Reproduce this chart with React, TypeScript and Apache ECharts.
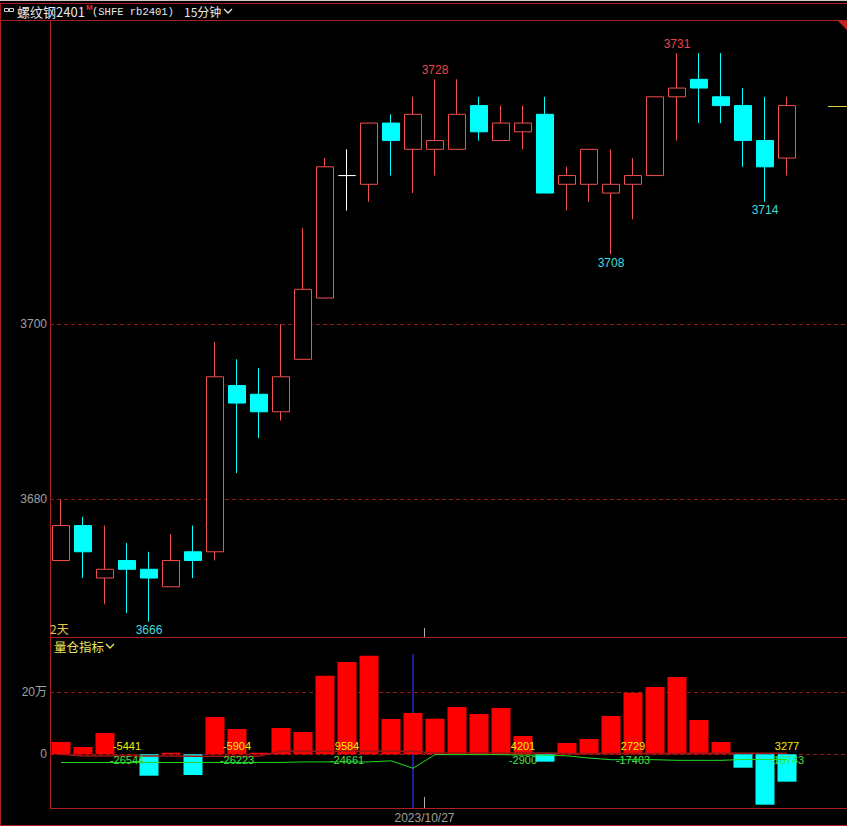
import React, { useEffect, useRef } from "react";
import * as echarts from "echarts";

// ---- data ----
const categories = [
  "10/25 22:45", "10/25 23:00",
  "10/26 09:15", "10/26 09:30", "10/26 09:45", "10/26 10:00", "10/26 10:15",
  "10/26 10:45", "10/26 11:00", "10/26 11:15", "10/26 11:30",
  "10/26 13:45", "10/26 14:00", "10/26 14:15", "10/26 14:30", "10/26 14:45", "10/26 15:00",
  "10/26 21:15", "10/26 21:30", "10/26 21:45", "10/26 22:00", "10/26 22:15", "10/26 22:30", "10/26 22:45", "10/26 23:00",
  "10/27 09:15", "10/27 09:30", "10/27 09:45", "10/27 10:00", "10/27 10:15",
  "10/27 10:45", "10/27 11:00", "10/27 11:15", "10/27 11:30",
  "", " ", "  ",
];

const opens = [3673, 3677, 3671, 3673, 3672, 3670, 3674, 3674, 3693, 3692, 3690, 3696, 3703, 3717, 3716, 3723, 3720, 3720, 3720, 3725, 3721, 3722, 3724, 3716, 3716, 3715, 3716, 3717, 3726, 3728, 3726, 3725, 3721, 3719];
const closes = [3677, 3674, 3672, 3672, 3671, 3673, 3673, 3694, 3691, 3690, 3694, 3704, 3718, 3717, 3723, 3721, 3724, 3721, 3724, 3722, 3723, 3723, 3715, 3717, 3720, 3716, 3717, 3726, 3727, 3727, 3725, 3721, 3718, 3725];
const lows = [3673, 3671, 3668, 3667, 3666, 3670, 3671, 3673, 3683, 3687, 3689, 3696, 3703, 3713, 3714, 3717, 3715, 3717, 3720, 3721, 3721, 3720, 3715, 3713, 3714, 3708, 3712, 3717, 3721, 3723, 3723, 3718, 3714, 3717];
const highs = [3680, 3678, 3677, 3675, 3674, 3676, 3677, 3698, 3696, 3695, 3700, 3711, 3719, 3720, 3723, 3724, 3726, 3728, 3728, 3726, 3725, 3725, 3726, 3718, 3720, 3720, 3719, 3726, 3731, 3731, 3731, 3727, 3726, 3726];

const oiChange = [40000, 23500, 68700, 800, -69000, 5000, -66800, 120400, 81600, 5000, 84900, 72000, 253600, 297800, 318000, 113900, 133200, 114800, 152600, 130000, 149400, 59000, -23800, 36500, 49400, 123500, 198700, 217000, 249400, 110600, 39700, -43200, -162600, -88400];
const redLine = [0, -5441, -5441, -5441, -5441, -5441, -5904, -5904, -5904, -5904, 9584, 9584, 9584, 9584, 9584, 9584, 9584, 4201, 4201, 4201, 4201, 4201, 4201, 2729, 2729, 2729, 2729, 2729, 2729, 3277, 3277, 3277, 3277, 3277];
const greenLine = [-26544, -26544, -26544, -26544, -26544, -26544, -26223, -26223, -26223, -26223, -26223, -24661, -24661, -24661, -24661, -21000, -45000, -1000, -1000, -1000, -1000, -2900, -2900, -5000, -12000, -17403, -17403, -17403, -19500, -19500, -19500, -16743, -16743, -16743];

const labelIdx = [3, 8, 13, 21, 26, 33];
const yellowLabels = ["-5441", "-5904", "9584", "4201", "2729", "3277"];
const greenLabels = ["-26544", "-26223", "-24661", "-2900", "-17403", "-16743"];

const highMarks = [17, 28];
const lowMarks = [4, 25, 32];

const priceTicks = [3680, 3700];
const volTicks = [0, 200000];
const volTickLabels = ["0", "20万"];

const sepIndex = 16;
const blueIndex = 16;
const dateLabel = "2023/10/27";

export default function App() {
  const ref = useRef<HTMLDivElement>(null);
  useEffect(() => {
    const el = ref.current as HTMLDivElement;
    const chart = echarts.init(el, null, { renderer: "svg" });
    const numFont = "'Liberation Sans', 'Noto Sans CJK SC', Arial, sans-serif";
    const cjkFont = "'Noto Sans CJK SC', 'Liberation Sans', sans-serif";
    const monoFont = "'Liberation Mono', 'DejaVu Sans Mono', monospace";
    const RED = "#f05050";
    const CYAN = "#00ffff";
    const GRID_RED = "#8c1a1a";
    const BORDER = "#a82020";
    const GRAY = "#a0a0a0";

    const candleData = opens.map((o, i) => [o, closes[i], lows[i], highs[i]]);

    const axisHidden = {
      axisLine: { show: false },
      axisTick: { show: false },
      axisLabel: { show: false },
      splitLine: { show: false },
    };

    const option: any = {
      animation: false,
      backgroundColor: "#000",
      grid: [
        { left: 50, top: 20, width: 814, height: 617 },
        { left: 50, top: 654, width: 814, height: 154 },
      ],
      xAxis: [
        { type: "category", gridIndex: 0, data: categories, boundaryGap: true, ...axisHidden },
        { type: "category", gridIndex: 1, data: categories, boundaryGap: true, ...axisHidden },
      ],
      yAxis: [
        { type: "value", gridIndex: 0, min: 3664.26, max: 3734.78, scale: true, ...axisHidden },
        { type: "value", gridIndex: 1, min: -173226, max: 323548, ...axisHidden },
      ],
      series: [
        {
          type: "candlestick",
          xAxisIndex: 0,
          yAxisIndex: 0,
          data: candleData,
          barWidth: 17,
          z: 3,
          itemStyle: {
            color: "#000",
            color0: CYAN,
            borderColor: RED,
            borderColor0: CYAN,
            borderColorDoji: "#ffffff",
            borderWidth: 1,
          },
          markLine: {
            silent: true,
            symbol: ["none", "none"],
            z: 1,
            lineStyle: { color: GRID_RED, type: [4, 3], width: 1 },
            label: {
              show: true,
              position: "start",
              color: GRAY,
              fontSize: 12,
              fontFamily: numFont,
              distance: 3,
              formatter: (p: any) => String(p.value),
            },
            data: priceTicks.map((v) => ({ yAxis: v })),
          },
          markPoint: {
            silent: true,
            symbol: "circle",
            symbolSize: 1,
            itemStyle: { color: "rgba(0,0,0,0)" },
            data: [
              ...highMarks.map((i) => ({
                coord: [i, highs[i]],
                label: {
                  show: true,
                  position: "top",
                  distance: 3,
                  formatter: String(highs[i]),
                  color: "#ee4444",
                  fontSize: 12,
                  fontFamily: numFont,
                },
              })),
              ...lowMarks.map((i) => ({
                coord: [i, lows[i]],
                label: {
                  show: true,
                  position: "bottom",
                  distance: 2,
                  formatter: String(lows[i]),
                  color: "#40dcdc",
                  fontSize: 12,
                  fontFamily: numFont,
                },
              })),
            ],
          },
        },
        {
          type: "bar",
          xAxisIndex: 1,
          yAxisIndex: 1,
          barWidth: 19,
          z: 2,
          data: oiChange.map((v) => ({
            value: v,
            itemStyle: { color: v >= 0 ? "#ff0000" : CYAN },
          })),
          markLine: {
            silent: true,
            symbol: ["none", "none"],
            z: 1,
            lineStyle: { color: GRID_RED, type: [4, 3], width: 1 },
            label: {
              show: true,
              position: "start",
              color: GRAY,
              fontSize: 12,
              fontFamily: numFont,
              distance: 3,
            },
            data: [
              ...volTicks.map((v, k) => ({
                yAxis: v,
                label: { formatter: volTickLabels[k] },
              })),
              {
                xAxis: categories[blueIndex],
                lineStyle: { color: "#2626cc", type: "solid", width: 1.5 },
                label: { show: false },
              },
            ],
          },
        },
        {
          type: "line",
          xAxisIndex: 1,
          yAxisIndex: 1,
          data: redLine,
          symbol: "none",
          z: 4,
          lineStyle: { color: "#a01616", width: 1.5 },
          itemStyle: { color: "#a01616" },
          markPoint: {
            silent: true,
            symbol: "circle",
            symbolSize: 1,
            itemStyle: { color: "rgba(0,0,0,0)" },
            data: labelIdx.map((i, k) => ({
              coord: [i, 0],
              label: {
                show: true,
                position: "inside",
                offset: [0, -8],
                formatter: yellowLabels[k],
                color: "#f0f000",
                fontSize: 11,
                fontFamily: numFont,
              },
            })),
          },
        },
        {
          type: "line",
          xAxisIndex: 1,
          yAxisIndex: 1,
          data: greenLine,
          symbol: "none",
          z: 5,
          lineStyle: { color: "#22dd22", width: 1 },
          itemStyle: { color: "#22dd22" },
          markPoint: {
            silent: true,
            symbol: "circle",
            symbolSize: 1,
            itemStyle: { color: "rgba(0,0,0,0)" },
            data: labelIdx.map((i, k) => ({
              coord: [i, 0],
              label: {
                show: true,
                position: "inside",
                offset: [0, 6],
                formatter: greenLabels[k],
                color: "#44e044",
                fontSize: 11,
                fontFamily: numFont,
              },
            })),
          },
        },
      ],
    };
    chart.setOption(option);

    const c1 = chart.convertToPixel({ xAxisIndex: 0 }, sepIndex) as unknown as number;
    const c2 = chart.convertToPixel({ xAxisIndex: 0 }, sepIndex + 1) as unknown as number;
    const sepX = Math.round((c1 + c2) / 2) + 0.5;
    const priceY = Math.round(chart.convertToPixel({ yAxisIndex: 0 }, closes[closes.length - 1]) as unknown as number) + 0.5;

    const ln = (x1: number, y1: number, x2: number, y2: number, stroke: string, w = 1) => ({
      type: "line",
      silent: true,
      z: 100,
      shape: { x1, y1, x2, y2 },
      style: { stroke, lineWidth: w },
    });
    const tx = (
      x: number,
      y: number,
      text: string,
      fill: string,
      size: number,
      family: string,
      align = "left",
      weight = "normal"
    ) => ({
      type: "text",
      silent: true,
      z: 100,
      x,
      y,
      style: {
        text,
        fill,
        fontSize: size,
        fontFamily: family,
        fontWeight: weight,
        align,
        verticalAlign: "middle",
        textAlign: align,
        textVerticalAlign: "middle",
      },
    });

    chart.setOption({
      graphic: {
        elements: [
          ln(0, 0.5, 847, 0.5, "#cfc6c6"),
          ln(0, 3.5, 847, 3.5, BORDER),
          ln(0, 20.5, 847, 20.5, BORDER),
          ln(0.5, 3, 0.5, 826, BORDER),
          ln(50.5, 20, 50.5, 808, BORDER),
          ln(50, 637.5, 847, 637.5, BORDER),
          ln(50, 808.5, 847, 808.5, BORDER),
          ln(0, 825.5, 847, 825.5, BORDER),
          {
            type: "polygon",
            silent: true,
            z: 100,
            shape: { points: [[838, 21], [847, 21], [847, 30]] },
            style: { fill: "#c02020" },
          },
          {
            type: "rect",
            silent: true,
            z: 100,
            shape: { x: 4.5, y: 8.5, width: 4, height: 3 },
            style: { fill: "none", stroke: "#d0d0d0", lineWidth: 1 },
          },
          {
            type: "rect",
            silent: true,
            z: 100,
            shape: { x: 9.5, y: 8.5, width: 4, height: 3 },
            style: { fill: "none", stroke: "#d0d0d0", lineWidth: 1 },
          },
          tx(17, 11.5, "螺纹钢2401", "#e8e8e8", 13, cjkFont),
          tx(86, 7, "M", "#e03030", 8, numFont, "left", "bold"),
          tx(92, 11.5, "(SHFE rb2401)", "#e8e8e8", 10.5, monoFont),
          tx(184, 11.5, "15分钟", "#e8e8e8", 12, cjkFont),
          {
            type: "polyline",
            silent: true,
            z: 100,
            shape: { points: [[224, 9], [228, 13], [232, 9]] },
            style: { stroke: "#e8e8e8", lineWidth: 1.3, fill: "none" },
          },
          tx(50, 628, "2天", "#e0c850", 12, cjkFont),
          tx(54, 646.5, "量仓指标", "#e8e860", 12.5, cjkFont),
          {
            type: "polyline",
            silent: true,
            z: 100,
            shape: { points: [[106, 644], [110, 648], [114, 644]] },
            style: { stroke: "#e8e860", lineWidth: 1.3, fill: "none" },
          },
          ln(sepX, 628, sepX, 637, "#b0b0b0"),
          ln(sepX, 797, sepX, 808, "#b0b0b0"),
          tx(sepX, 818, dateLabel, GRAY, 12, numFont, "center"),
          ln(828, priceY, 847, priceY, "#d8d040"),
        ],
      },
    });

    return () => {
      chart.dispose();
    };
  }, []);

  return (
    <div
      style={{
        position: "absolute",
        left: 0,
        top: 0,
        width: 847,
        height: 826,
        overflow: "hidden",
        background: "#000",
      }}
    >
      <div ref={ref} style={{ width: 864, height: 826 }} />
    </div>
  );
}
